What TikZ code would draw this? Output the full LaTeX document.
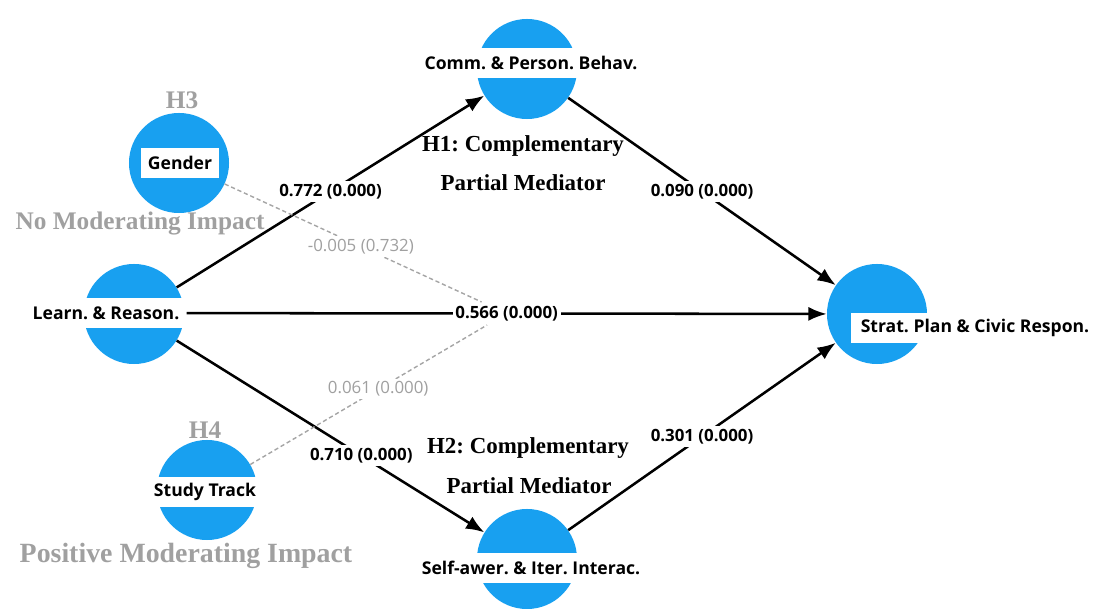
\documentclass[tikz,border=0pt]{standalone}
\usepackage{fontspec}
\setmainfont{Liberation Serif}
\newfontfamily\plsfont{Open Sans}
\usetikzlibrary{arrows.meta}
\frenchspacing

\definecolor{lvblue}{RGB}{24,160,240}
\definecolor{modgrey}{RGB}{160,160,160}
\definecolor{dashgrey}{RGB}{165,165,165}

\begin{document}
\begin{tikzpicture}[x=0.025cm, y=-0.025cm,
        every node/.append style={inner sep=0pt},
        lv/.style={circle, fill=lvblue, minimum size=2.5cm},
        lvname/.style={fill=white, minimum height=0.75cm, inner xsep=5pt,
            font=\plsfont\bfseries\fontsize{12.5}{14}\selectfont},
        coef/.style={fill=white, inner sep=2pt,
            font=\plsfont\bfseries\fontsize{12}{14}\selectfont},
        modcoef/.style={fill=white, inner sep=2pt, text=modgrey,
            font=\plsfont\fontsize{12}{14}\selectfont},
        causal/.style={line width=1.8pt, -{Latex[length=13pt,width=10pt]}},
        modpath/.style={dashgrey, line width=1pt, dash pattern=on 3pt off 2pt},
        hyp/.style={font=\bfseries\fontsize{16.3}{18}\selectfont},
        modnote/.style={text=modgrey, font=\bfseries\fontsize{18}{20}\selectfont}]
        \useasboundingbox (0,0) rectangle (1094,609);

        % latent variables
        \node [lv] (G) at (179,163) {};
        \node [lv] (LR) at (134,314) {};
        \node [lv] (ST) at (207,490) {};
        \node [lv] (CPB) at (527,69) {};
        \node [lv] (SIA) at (527,559) {};
        \node [lv] (SPC) at (877,314) {};

        \node [lvname] (Gt) at (180,163) {Gender};
        \node [lvname] (LRt) at (106,313) {Learn. \& Reason.};
        \node [lvname] (STt) at (205,492) {Study Track};
        \node [lvname] (CPBt) at (531,63) {Comm. \& Person. Behav.};
        \node [lvname] (SIAt) at (531,568) {Self-awer. \& Iter. Interac.};
        \node [lvname, inner xsep=7pt] (SPCt) at (975,328) {Strat. Plan \& Civic Respon.};

        % structural paths
        \draw [causal] (LR) edge node [coef] (b1) {0.772 (0.000)} (CPB);
        \draw [causal] (CPB) edge node [coef] (b2) {0.090 (0.000)} (SPC);
        \draw [causal] (LRt) edge node [coef] (b3) {0.566 (0.000)} (SPC);
        \draw [causal] (LR) edge node [coef, pos=.6] (b4) {0.710 (0.000)} (SIA);
        \draw [causal] (SIA) edge node [coef] (b5) {0.301 (0.000)} (SPC);

        % moderators
        \draw [modpath] (G) edge node [modcoef, pos=.53] (m1) {-0.005 (0.732)} (b3);
        \draw [modpath] (ST) edge node [modcoef, pos=.54] (m2) {0.061 (0.000)} (b3);

        % hypotheses
        \node [modnote] (H3) at (182,100) {H3};
        \node [modnote] (H3r) at (140,224) {No Moderating Impact};
        \node [modnote] (H4) at (205,430) {H4};
        \node [modnote, font=\bfseries\fontsize{19.8}{22}\selectfont] (H4r) at (186,556) {Positive Moderating Impact};
        \node [hyp] (H1a) at (523,146) {H1: Complementary};
        \node [hyp] (H1b) at (523,183) {Partial Mediator};
        \node [hyp] (H2a) at (528,448) {H2: Complementary};
        \node [hyp] (H2b) at (529,486) {Partial Mediator};
    \end{tikzpicture}
\end{document}
